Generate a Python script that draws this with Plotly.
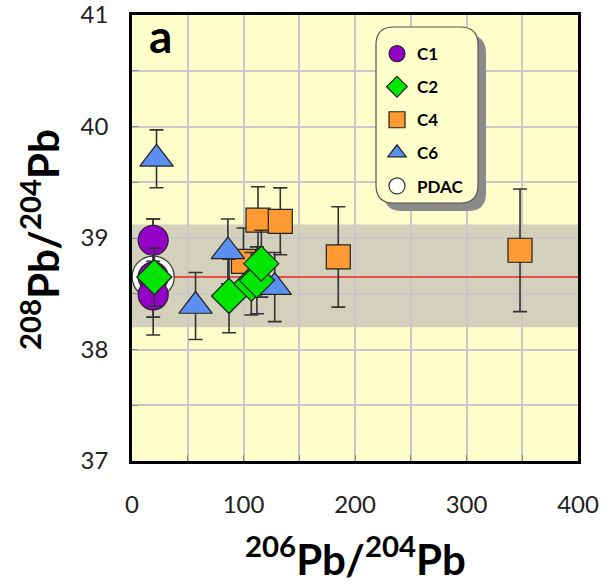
import plotly.graph_objects as go

# ---- data ----
c1_x = [19, 19, 19]
c1_y = [38.98, 38.65, 38.49]
c1_err = [0.19, 0.52, 0.20]

c2_x = [20, 87, 107, 112, 116]
c2_y = [38.65, 38.48, 38.59, 38.62, 38.77]
c2_err = [0.26, 0.33, 0.28, 0.3, 0.3]

c4_x = [100, 113, 133, 185, 348]
c4_y = [38.79, 39.16, 39.15, 38.83, 38.89]
c4_err = [0.3, 0.3, 0.3, 0.45, 0.55]

c6_x = [22, 57, 86, 128]
c6_y = [39.71, 38.39, 38.88, 38.56]
c6_err = [0.26, 0.30, 0.29, 0.31]

pdac_x = [19]
pdac_y = [38.65]

band_low, band_high = 38.20, 39.12
ref_line = 38.65

x_range = [0, 400]
y_range = [37, 41]
x_ticks = [0, 100, 200, 300, 400]
y_ticks = [37, 38, 39, 40, 41]

FONT = "Lato"
EB = dict(type="data", visible=True, color="#333333", thickness=1.6, width=7)

fig = go.Figure()

fig.add_trace(go.Scatter(x=pdac_x, y=pdac_y, mode="markers", name="PDAC", legendgroup="e", legendrank=5,
                         marker=dict(symbol="circle", size=42, color="white", line=dict(color="#333333", width=1.2))))
fig.add_trace(go.Scatter(x=c1_x, y=c1_y, mode="markers", name="C1", legendgroup="a", legendrank=1,
                         error_y=dict(array=c1_err, **EB),
                         marker=dict(symbol="circle", size=30, color="#9400c8", line=dict(color="#222222", width=1.2))))
fig.add_trace(go.Scatter(x=c4_x, y=c4_y, mode="markers", name="C4", legendgroup="c", legendrank=3,
                         error_y=dict(array=c4_err, **EB),
                         marker=dict(symbol="square", size=24, color="#fd9a32", line=dict(color="#222222", width=1.2))))
fig.add_trace(go.Scatter(x=c6_x, y=c6_y, mode="markers", name="C6", legendgroup="d", legendrank=4,
                         error_y=dict(array=c6_err, **EB),
                         marker=dict(symbol="triangle-up", size=29, color="#5b8ff0", line=dict(color="#222222", width=1.2))))
fig.add_trace(go.Scatter(x=c2_x, y=c2_y, mode="markers", name="C2", legendgroup="b", legendrank=2,
                         error_y=dict(array=c2_err, **EB),
                         marker=dict(symbol="diamond", size=27, color="#00e600", line=dict(color="#222222", width=1.2))))

# shaded band + reference line
fig.add_shape(type="rect", xref="x", yref="y", x0=x_range[0], x1=x_range[1], y0=band_low, y1=band_high,
              fillcolor="#d3d1bc", line_width=0, layer="below")
fig.add_shape(type="line", xref="x", yref="y", x0=x_range[0], x1=x_range[1], y0=ref_line, y1=ref_line,
              line=dict(color="#ee2222", width=1.6), layer="between")

# legend box with shadow (paper coords)
def rounded(x0, y0, x1, y1, r):
    return (f"M{x0 + r},{y0} L{x1 - r},{y0} Q{x1},{y0} {x1},{y0 + r} L{x1},{y1 - r} Q{x1},{y1} {x1 - r},{y1} "
            f"L{x0 + r},{y1} Q{x0},{y1} {x0},{y1 - r} L{x0},{y0 + r} Q{x0},{y0} {x0 + r},{y0} Z")

def px2paper(px, py):
    return (px - 132) / 446, 1 - (py - 15) / 446

lx0, ly0 = px2paper(376, 27)
lx1, ly1 = px2paper(478, 203)
sx0, sy0 = px2paper(384, 35)
sx1, sy1 = px2paper(486, 211)

fig.add_shape(type="path", xref="paper", yref="paper",
              path=rounded(sx0, sy1, sx1, sy0, 0.04), fillcolor="#8a8a8a", line_width=0, layer="above")
fig.add_shape(type="path", xref="paper", yref="paper",
              path=rounded(lx0, ly1, lx1, ly0, 0.04), fillcolor="#ffffcc", line=dict(color="#555555", width=1.2), layer="above")

ax_, ay_ = px2paper(160, 35)
fig.add_annotation(text="<b>a</b>", xref="paper", yref="paper", x=ax_, y=ay_, xanchor="center", yanchor="middle",
                   showarrow=False, font=dict(family=FONT, size=46, color="black"))

# axis titles as annotations for precise placement
tx, _ = px2paper(355, 0)
_, ty = px2paper(0, 556)
fig.add_annotation(text="<b><sup>206</sup>Pb/<sup>204</sup>Pb</b>", xref="paper", yref="paper", x=tx, y=ty,
                   xanchor="center", yanchor="middle", showarrow=False,
                   font=dict(family=FONT, size=42, color="black"))
yx, _ = px2paper(40, 0)
_, yy = px2paper(0, 240)
fig.add_annotation(text="<b><sup>208</sup>Pb/<sup>204</sup>Pb</b>", xref="paper", yref="paper", x=yx, y=yy,
                   xanchor="center", yanchor="middle", showarrow=False, textangle=-90,
                   font=dict(family=FONT, size=42, color="black"))

fig.update_layout(
    width=609, height=587,
    margin=dict(l=132, r=31, t=15, b=126, autoexpand=False),
    paper_bgcolor="white",
    plot_bgcolor="#ffffcc",
    font=dict(family=FONT, color="#222222"),
    showlegend=True,
    legend=dict(x=(377 - 132) / 446, y=1 - (36 - 15) / 446, xanchor="left", yanchor="top",
                bgcolor="rgba(0,0,0,0)", borderwidth=0, tracegroupgap=8,
                font=dict(family=FONT, size=17, color="black", weight="bold"),
                traceorder="grouped"),
)

fig.update_xaxes(range=x_range, tickvals=x_ticks, showgrid=True, gridcolor="#c8c8c8", gridwidth=1.5,
                 minor=dict(dtick=50, showgrid=True, gridcolor="#c8c8c8", gridwidth=1.5, ticks="inside", ticklen=6, tickcolor="#888888"),
                 ticks="inside", ticklen=6, tickcolor="#888888", ticklabeloverflow="allow", automargin=False,
                 showline=True, linecolor="black", linewidth=2.5, mirror=True, zeroline=False,
                 tickfont=dict(size=24, family=FONT, color="#222222"), ticklabelstandoff=20)
fig.update_yaxes(range=y_range, tickvals=y_ticks, showgrid=True, gridcolor="#c8c8c8", gridwidth=1.5,
                 minor=dict(dtick=0.5, showgrid=True, gridcolor="#c8c8c8", gridwidth=1.5, ticks="inside", ticklen=6, tickcolor="#888888"),
                 ticks="inside", ticklen=6, tickcolor="#888888", ticklabeloverflow="allow", automargin=False,
                 showline=True, linecolor="black", linewidth=2.5, mirror=True, zeroline=False,
                 tickfont=dict(size=24, family=FONT, color="#222222"), ticklabelstandoff=16)

fig.write_html("out.html")
